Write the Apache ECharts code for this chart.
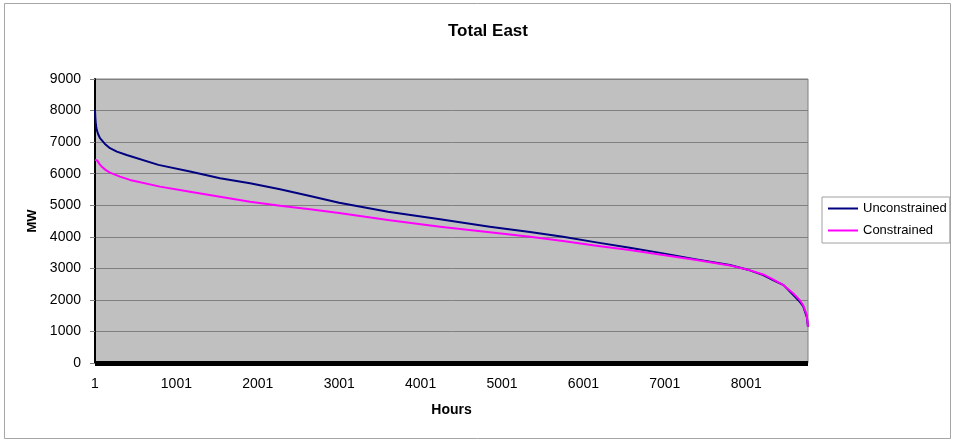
<!DOCTYPE html>
<html>
<head>
<meta charset="utf-8">
<script src="https://cdn.jsdelivr.net/npm/echarts@6/dist/echarts.min.js"></script>
<style>html,body{margin:0;padding:0;background:#fff}#c{width:955px;height:440px}</style>
</head>
<body>
<div id="c"></div>
<script>
// Data (hour of year, MW), load-duration curves
var unconHours = [1, 5, 12, 22, 40, 62, 120, 185, 270, 390, 780, 1168, 1537, 1905, 2274, 2642, 3000, 3600, 4240, 4850, 5345, 5750, 6160, 6570, 6980, 7390, 7800, 8010, 8210, 8330, 8460, 8580, 8660, 8700, 8745, 8760];
var unconMW    = [8020, 7780, 7550, 7390, 7250, 7126, 6950, 6808, 6700, 6590, 6278, 6066, 5856, 5697, 5506, 5294, 5081, 4795, 4554, 4319, 4150, 4001, 3823, 3652, 3474, 3284, 3103, 2966, 2785, 2626, 2467, 2150, 1937, 1800, 1461, 1143];
var conHours   = [1, 29, 55, 83, 130, 185, 308, 431, 800, 1168, 1537, 1905, 2274, 2642, 3000, 3600, 4240, 4850, 5345, 5750, 6160, 6570, 6980, 7390, 7800, 8010, 8210, 8330, 8460, 8580, 8660, 8700, 8745, 8760];
var conMW      = [6437, 6415, 6310, 6224, 6120, 6034, 5907, 5802, 5589, 5430, 5272, 5113, 4986, 4871, 4750, 4532, 4319, 4141, 4001, 3865, 3716, 3579, 3420, 3261, 3093, 2966, 2807, 2648, 2467, 2204, 1991, 1832, 1515, 1143];
var xTickLabels = ['1', '1001', '2001', '3001', '4001', '5001', '6001', '7001', '8001'];
var yTickLabels = ['0', '1000', '2000', '3000', '4000', '5000', '6000', '7000', '8000', '9000'];
var seriesNames = ['Unconstrained', 'Constrained'];

function pairs(hs, vs) { return hs.map(function (h, i) { return [h - 1, vs[i]]; }); }

var FONT = 'Arial, "Liberation Sans", sans-serif';
var chart = echarts.init(document.getElementById('c'), null, { renderer: 'canvas' });
chart.setOption({
  backgroundColor: '#ffffff',
  animation: false,
  title: {
    text: 'Total East', left: 443, top: 18,
    textStyle: { fontFamily: FONT, fontSize: 17, fontWeight: 'bold', color: '#000' }
  },
  graphic: [{
    type: 'rect', z: -1, silent: true,
    shape: { x: 4.5, y: 3.5, width: 946, height: 435 },
    style: { fill: 'none', stroke: '#a6a6a6', lineWidth: 1 }
  }],
  legend: {
    orient: 'vertical', left: 822, top: 197,
    padding: [5, 3, 6, 6], itemGap: 9,
    backgroundColor: '#fff', borderColor: '#a0a0a0', borderWidth: 1,
    itemWidth: 30, itemHeight: 2, icon: 'rect',
    textStyle: { fontFamily: FONT, fontSize: 13, color: '#000' },
    data: seriesNames
  },
  grid: {
    left: 95, right: 147, top: 79, bottom: 77,
    show: true, backgroundColor: '#c0c0c0', borderColor: '#808080', borderWidth: 1
  },
  xAxis: {
    type: 'value', min: 0, max: 8759, interval: 1000,
    offset: 2.5,
    name: 'Hours', nameLocation: 'middle', nameGap: 38,
    nameTextStyle: { fontFamily: FONT, fontSize: 14, fontWeight: 'bold', color: '#000' },
    axisLine: { show: true, lineStyle: { color: '#000', width: 5, cap: 'butt' } },
    axisTick: { show: false },
    splitLine: { show: false },
    axisLabel: {
      showMaxLabel: false, margin: 12,
      fontFamily: FONT, fontSize: 14, color: '#000',
      formatter: function (v) { var i = Math.round(v / 1000); return (v % 1000 === 0 && xTickLabels[i]) ? xTickLabels[i] : ''; }
    }
  },
  yAxis: {
    type: 'value', min: 0, max: 9000, interval: 1000,
    name: 'MW', nameLocation: 'middle', nameGap: 53, nameRotate: 90,
    nameTextStyle: { fontFamily: FONT, fontSize: 13, fontWeight: 'bold', color: '#000' },
    axisLine: { show: true, lineStyle: { color: '#000', width: 2 } },
    axisTick: { show: true, length: 5, lineStyle: { color: '#808080' } },
    splitLine: { show: true, lineStyle: { color: '#808080', width: 1 } },
    axisLabel: {
      margin: 14, fontFamily: FONT, fontSize: 14, color: '#000',
      formatter: function (v) { return yTickLabels[Math.round(v / 1000)]; }
    }
  },
  series: [
    {
      name: seriesNames[0], type: 'line', showSymbol: false, symbol: 'none',
      smooth: false,
      data: pairs(unconHours, unconMW),
      lineStyle: { color: '#000080', width: 2, join: 'round' }, itemStyle: { color: '#000080' }
    },
    {
      name: seriesNames[1], type: 'line', showSymbol: false, symbol: 'none',
      smooth: false,
      data: pairs(conHours, conMW),
      lineStyle: { color: '#ff00ff', width: 2, join: 'round' }, itemStyle: { color: '#ff00ff' }
    }
  ]
});
</script>
</body>
</html>
